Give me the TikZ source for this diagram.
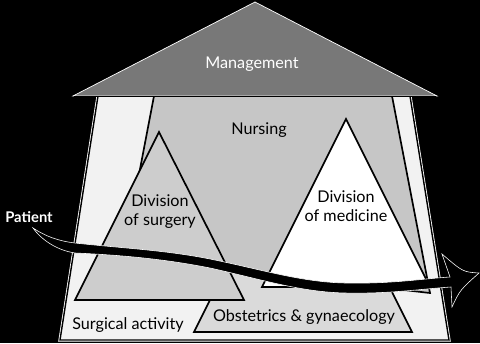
\documentclass[tikz,border=0pt]{standalone}
\usepackage{fontspec}
\setmainfont{Lato}
\usetikzlibrary{calc}
\definecolor{roofgray}{HTML}{787878}
\definecolor{nursegray}{HTML}{C6C6C6}
\definecolor{surggray}{HTML}{CDCDCD}
\definecolor{obstgray}{HTML}{DADADA}
\definecolor{floorbg}{HTML}{F2F2F2}

\begin{document}
\begin{tikzpicture}[
    x=0.025cm, y=-0.025cm,
    block/.style={line width=1.2pt, line join=miter},
    lbl/.style={font=\fontsize{11.5}{13.5}\selectfont, align=center, inner sep=0pt}
]

% 1. Frame (black background, pixel units)
\fill[black] (0,0) rectangle (480,343);
\useasboundingbox (0,0) rectangle (480,343);

% 2. Outer building (surgical activity)
\coordinate (FloorTL) at (98,96);
\coordinate (FloorTR) at (410,96);
\coordinate (FloorBR) at (449,340);
\coordinate (FloorBL) at (60,340);
\draw[white, line width=2.2pt] (FloorTL) -- (FloorTR) -- (FloorBR) -- (FloorBL) -- cycle;
\filldraw[block, floorbg, draw=black, line width=1pt] (FloorTL) -- (FloorTR) -- (FloorBR) -- (FloorBL) -- cycle;

% 3. Obstetrics triangle (apex hidden behind nursing)
\filldraw[block, fill=obstgray] (194,332) -- (412,332) -- (303,114) -- cycle;

% 4. Nursing block
\filldraw[block, fill=nursegray] (154,96) -- (392,96) -- (430,293) -- (123,258) -- cycle;

% 5. Divisions
\filldraw[block, fill=surggray] (75,300) -- (244,300) -- (159,132) -- cycle;
\filldraw[block, fill=white] (262,287) -- (430,287) -- (346,119) -- cycle;

% 6. Roof (management)
\filldraw[roofgray, draw=white, line width=0.5pt] (73,96) -- (437,96) -- (255,2) -- cycle;
\draw[black, line width=1.2pt] (74,96.5) -- (436,96.5);

% 7. Patient pathway
\filldraw[black, draw=white, line width=0.4pt]
    (33,228) .. controls (45,236) and (58,241) .. (75,243)
    .. controls (120,248) and (165,250) .. (210,259)
    .. controls (260,269) and (300,282) .. (345,283)
    .. controls (390,284) and (420,279) .. (450,277)
    -- (442,254) .. controls (463,272) .. (479,273)
    .. controls (460,290) .. (452,307) -- (451,287)
    .. controls (420,289) and (390,294) .. (345,293)
    .. controls (300,292) and (260,279) .. (210,268)
    .. controls (165,259) and (120,255) .. (75,253)
    .. controls (55,250) and (40,238) .. (33,228) -- cycle;

% 8. Labels
\node[lbl, text=white] (mgmt) at (252,64) {Management};
\node[lbl] (nurs) at (259,130) {Nursing};
\node[lbl] (surg) at (160,212) {Division\\of surgery};
\node[lbl] (med) at (346,206) {Division\\of medicine};
\node[lbl] (obst) at (304,317) {Obstetrics \& gynaecology};
\node[lbl] (act) at (128,325) {Surgical activity};
\node[lbl, text=white, font=\bfseries\fontsize{10.5}{12}\selectfont] (patient) at (29,217) {Patient};

\end{tikzpicture}
\end{document}
